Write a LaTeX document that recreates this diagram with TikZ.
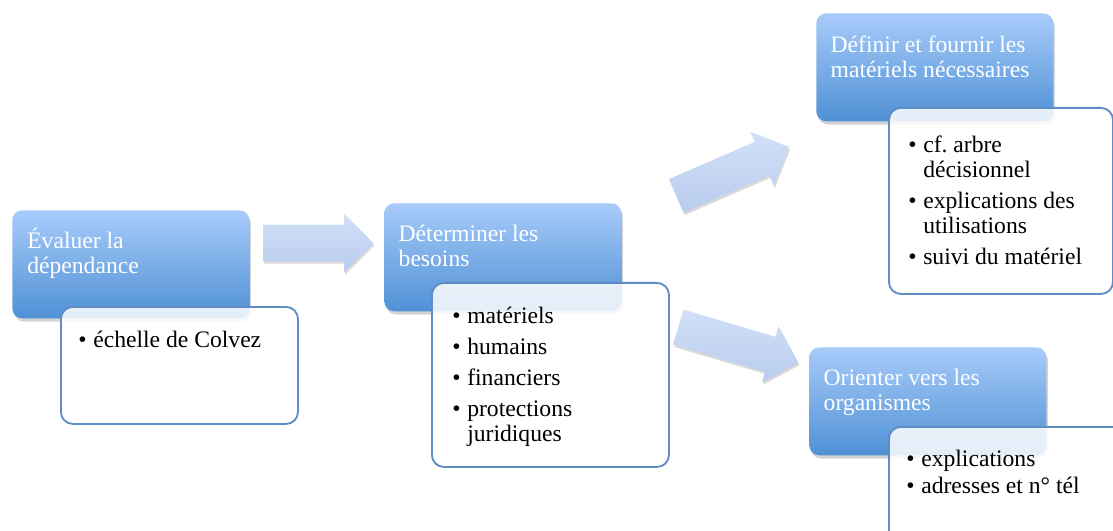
\documentclass[tikz,border=0pt]{standalone}
\usepackage{fontspec}
\setmainfont{Liberation Serif}
\usetikzlibrary{positioning, shapes.arrows, shadows}

\definecolor{bleuclair}{RGB}{168,203,250}
\definecolor{bleufonce}{RGB}{79,145,213}
\definecolor{flecheclair}{RGB}{210,224,247}
\definecolor{flechefonce}{RGB}{184,204,238}
\definecolor{bordure}{RGB}{95,140,195}

\newcommand{\police}{\fontsize{16.8pt}{17.8pt}\selectfont}
\newcommand{\haut}{\rule{0pt}{0.5cm}}
\newcommand{\puce}{\makebox[0.375cm][l]{\textbullet}}
\newcommand{\retrait}{\hspace*{0.375cm}}

\begin{document}
\begin{tikzpicture}[
        x=0.025cm, y=-0.025cm,
        every node/.style={font=\police},
        etape/.style={rounded corners=0.25cm, top color=bleuclair, bottom color=bleufonce, minimum width=5.925cm, minimum height=2.7cm, inner sep=0pt, anchor=north west, drop shadow={opacity=0.35, shadow xshift=0.04cm, shadow yshift=-0.08cm}},
        detail/.style={draw=bordure, line width=1.3pt, fill=white, fill opacity=0.85, rounded corners=0.3cm, minimum width=5.925cm, inner sep=0pt, anchor=north west},
        titre/.style={text=white, align=left, anchor=north west, inner sep=0pt},
        liste/.style={text=black, align=left, anchor=north west, inner sep=0pt},
        fleche/.style={single arrow, single arrow head extend=0.275cm, inner xsep=0pt, inner ysep=0.45cm, anchor=tail, top color=flecheclair, bottom color=flechefonce, drop shadow={opacity=0.3, shadow xshift=0.03cm, shadow yshift=-0.06cm}}
    ]
    \useasboundingbox (0,0) rectangle (1113,531);
    \clip (0,0) rectangle (1113,531);

    % Grosses fleches
    \node[fleche, minimum height=2.75cm] (f1) at (263,243) {};
    \node[fleche, minimum height=3.07cm, rotate=23.5] (f2) at (676,196) {};
    \node[fleche, minimum height=3.13cm, rotate=-16.5] (f3) at (678,327) {};

    % Etape 1
    \node[etape] (evaluer) at (12,210) {};
    \node[detail, minimum height=2.925cm] (colvez) at (60,306) {};
    \node[titre] (t-evaluer) at ([xshift=0.375cm, yshift=-0.45cm]evaluer.north west) {\haut Évaluer la\\dépendance};
    \node[liste] (l-colvez) at ([xshift=0.45cm, yshift=-0.525cm]colvez.north west) {\haut\puce échelle de Colvez};

    % Etape 2
    \node[etape] (besoins) at (384,203) {};
    \node[detail, minimum height=4.6cm] (types) at (431,282) {};
    \node[titre] (t-besoins) at ([xshift=0.36cm, yshift=-0.45cm]besoins.north west) {\haut Déterminer les\\besoins};
    \node[liste] (l-types) at ([xshift=0.525cm, yshift=-0.525cm]types.north west)
        {\haut\puce matériels\\[0.15cm]\puce humains\\[0.15cm]\puce financiers\\[0.15cm]\puce protections\\\retrait juridiques};

    % Etape 3 (haut)
    \node[etape] (materiels) at (816,13) {};
    \node[detail, minimum width=5.6cm, minimum height=4.65cm] (suivi) at (888,107) {};
    \node[titre] (t-materiels) at ([xshift=0.36cm, yshift=-0.475cm]materiels.north west) {\haut Définir et fournir les\\matériels nécessaires};
    \node[liste] (l-suivi) at ([xshift=0.5cm, yshift=-0.625cm]suivi.north west)
        {\haut\puce cf.\ arbre\\\retrait décisionnel\\[0.15cm]\puce explications des\\\retrait utilisations\\[0.15cm]\puce suivi du matériel};

    % Etape 3 (bas)
    \node[etape] (orienter) at (809,347) {};
    \node[detail, minimum height=3.25cm] (contacts) at (888,426) {};
    \node[titre] (t-orienter) at ([xshift=0.36cm, yshift=-0.45cm]orienter.north west) {\haut Orienter vers les\\organismes};
    \node[liste] (l-contacts) at ([xshift=0.45cm, yshift=-0.5cm]contacts.north west)
        {\haut\puce explications\\[0.05cm]\puce adresses et n° tél};

\end{tikzpicture}
\end{document}
